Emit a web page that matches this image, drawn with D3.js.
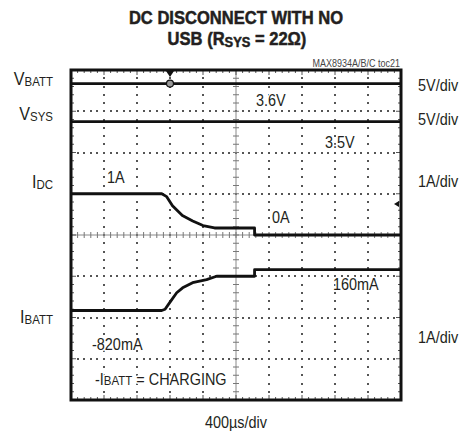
<!DOCTYPE html>
<html>
<head>
<meta charset="utf-8">
<script src="https://cdn.jsdelivr.net/npm/d3@7"></script>
<style>
  body { margin: 0; background: #fff; }
  svg text { font-family: "Liberation Sans", Arial, sans-serif; fill: #231f20; }
  .halo { paint-order: stroke; stroke: #fff; stroke-width: 3px; stroke-linejoin: round; }
</style>
</head>
<body>
<div id="chart"></div>
<script>
const width = 465;
const height = 434;

// scope setup: 10 x 8 divisions, 400us/div
const timePerDiv = 400;
const divsX = 10;
const divsY = 8;

// traces (time in us, values in V or A)
const vbattTime = [0, 4000];
const vbattVolts = [3.6, 3.6];
const vsysTime = [0, 4000];
const vsysVolts = [3.5, 3.5];
const idcTime = [0, 1100, 1160, 1230, 1350, 1475, 1600, 1740, 2225, 2225, 4000];
const idcAmps = [1.0, 1.0, 0.93, 0.71, 0.47, 0.34, 0.23, 0.17, 0.17, 0.0, 0.0];
const ibattTime = [0, 1100, 1140, 1196, 1281, 1353, 1474, 1644, 1764, 2225, 2225, 4000];
const ibattAmps = [-0.83, -0.83, -0.8, -0.64, -0.40, -0.28, -0.155, -0.08, 0.0, 0.0, 0.16, 0.16];

// channel names and scale texts
const chanMain = ["V", "V", "I", "I"];
const chanSub = ["BATT", "SYS", "DC", "BATT"];
const chanScale = ["5V/div", "5V/div", "1A/div", "1A/div"];
const voltsPerDiv = [5, 5, 1, 1];
const chanOffset = [2.95, 2.05, 0, -1]; // ground position in divisions from centre

const pLeft = 71, pRight = 401, pTop = 70, pBottom = 400;
const squeeze = 0.85; // no condensed font installed, so squash Liberation Sans

const svg = d3.select("#chart").append("svg")
  .attr("width", width)
  .attr("height", height);

const x = d3.scaleLinear().domain([0, divsX * timePerDiv]).range([pLeft, pRight]);
const y = d3.scaleLinear().domain([-divsY / 2, divsY / 2]).range([pBottom, pTop]);
const xDiv = d3.scaleLinear().domain([0, divsX]).range([pLeft, pRight]);

function label(tx, ty, size, anchor = "start", sx = squeeze) {
  return svg.append("g")
    .attr("transform", `translate(${tx},${ty}) scale(${sx},1)`)
    .append("text")
    .attr("text-anchor", anchor)
    .style("font-size", size + "px");
}

// dotted graticule
const g = svg.append("g");
d3.range(1, divsX).filter((k) => k !== divsX / 2).forEach((k) => {
  g.selectAll(null).data(d3.range(1, divsY * 5)).join("rect")
    .attr("x", Math.round(xDiv(k)) - 1).attr("y", (j) => Math.round(y(-divsY / 2 + j / 5)) - 1)
    .attr("width", 2).attr("height", 2).attr("fill", "#555");
});
d3.range(1, divsY).filter((k) => k !== divsY / 2).forEach((k) => {
  g.selectAll(null).data(d3.range(1, divsX * 5)).join("rect")
    .attr("x", (j) => Math.round(xDiv(j / 5)) - 1).attr("y", Math.round(y(-divsY / 2 + k)) - 1)
    .attr("width", 2).attr("height", 2).attr("fill", "#555");
});

// centre cross with ticks
g.append("line").attr("x1", xDiv(5)).attr("x2", xDiv(5)).attr("y1", pTop).attr("y2", pBottom)
  .attr("stroke", "#8a8a8a").attr("stroke-width", 1);
g.append("line").attr("x1", pLeft).attr("x2", pRight).attr("y1", y(0)).attr("y2", y(0))
  .attr("stroke", "#8a8a8a").attr("stroke-width", 1);
g.selectAll(null).data(d3.range(1, divsY * 5)).join("line")
  .attr("x1", xDiv(5) - 3).attr("x2", xDiv(5) + 3)
  .attr("y1", (j) => y(-divsY / 2 + j / 5)).attr("y2", (j) => y(-divsY / 2 + j / 5))
  .attr("stroke", "#777").attr("stroke-width", 1);
g.selectAll(null).data(d3.range(1, divsX * 5)).join("line")
  .attr("y1", y(0) - 3).attr("y2", y(0) + 3)
  .attr("x1", (j) => xDiv(j / 5)).attr("x2", (j) => xDiv(j / 5))
  .attr("stroke", "#777").attr("stroke-width", 1);

// edge ticks
const tk = (j) => (j % 5 === 0 ? 5 : 3);
g.selectAll(null).data(d3.range(1, divsX * 5)).join("line")
  .attr("x1", (j) => xDiv(j / 5)).attr("x2", (j) => xDiv(j / 5))
  .attr("y1", pTop).attr("y2", (j) => pTop + tk(j))
  .attr("stroke", "#555");
g.selectAll(null).data(d3.range(1, divsX * 5)).join("line")
  .attr("x1", (j) => xDiv(j / 5)).attr("x2", (j) => xDiv(j / 5))
  .attr("y1", pBottom).attr("y2", (j) => pBottom - tk(j))
  .attr("stroke", "#555");
g.selectAll(null).data(d3.range(1, divsY * 5)).join("line")
  .attr("y1", (j) => y(-divsY / 2 + j / 5)).attr("y2", (j) => y(-divsY / 2 + j / 5))
  .attr("x1", pLeft).attr("x2", (j) => pLeft + tk(j))
  .attr("stroke", "#555");
g.selectAll(null).data(d3.range(1, divsY * 5)).join("line")
  .attr("y1", (j) => y(-divsY / 2 + j / 5)).attr("y2", (j) => y(-divsY / 2 + j / 5))
  .attr("x1", pRight).attr("x2", (j) => pRight - tk(j))
  .attr("stroke", "#555");

// annotations inside the screen (drawn before traces, halo knocks out the grid)
const notes = [
  ["1A", 107, 183],
  ["3.6V", 256, 106],
  ["3.5V", 325, 148],
  ["0A", 272, 223],
  ["160mA", 333, 290],
  ["-820mA", 92, 350],
];
notes.forEach(([s, nx, ny]) => {
  label(nx, ny, 17).attr("class", "halo").text(s);
});
const ch = label(95, 385, 17).attr("class", "halo");
ch.append("tspan").text("-I");
ch.append("tspan").style("font-size", "13.5px").text("BATT");
ch.append("tspan").text(" = CHARGING");

// traces
const traces = [
  [vbattTime, vbattVolts],
  [vsysTime, vsysVolts],
  [idcTime, idcAmps],
  [ibattTime, ibattAmps],
];
traces.forEach(([t, v], i) => {
  const pts = t.map((tt, k) => [x(tt), y(chanOffset[i] + v[k] / voltsPerDiv[i])]);
  svg.append("path")
    .attr("d", d3.line().curve(d3.curveLinear)(pts))
    .attr("fill", "none")
    .attr("stroke", "#111")
    .attr("stroke-width", 2.8)
    .attr("stroke-linejoin", "round");
});

// trigger markers
const trigX = x(3 * timePerDiv);
svg.append("path")
  .attr("d", `M${trigX - 4},${pTop + 1}L${trigX + 4},${pTop + 1}L${trigX},${pTop + 7}Z`)
  .attr("fill", "#111");
svg.append("circle")
  .attr("cx", trigX).attr("cy", y(chanOffset[0] + vbattVolts[0] / 5))
  .attr("r", 3.5).attr("fill", "#999").attr("stroke", "#111").attr("stroke-width", 1.2);
const trigY = y(0.75);
svg.append("path")
  .attr("d", `M${pRight - 2},${trigY - 3}L${pRight - 2},${trigY + 3}L${pRight - 7},${trigY}Z`)
  .attr("fill", "#111");

// frame
svg.append("rect")
  .attr("x", pLeft).attr("y", pTop)
  .attr("width", pRight - pLeft).attr("height", pBottom - pTop)
  .attr("fill", "none").attr("stroke", "#111").attr("stroke-width", 3);

// title
const boldTitle = (t) => t.style("font-weight", "bold")
  .style("stroke", "#231f20").style("stroke-width", "0.5px");
boldTitle(label(236, 24, 18, "middle", 0.92)).text("DC DISCONNECT WITH NO");
const t2 = boldTitle(label(237, 45, 18, "middle", 0.92));
t2.append("tspan").text("USB (R");
t2.append("tspan").attr("dy", 2).style("font-size", "14px").text("SYS");
t2.append("tspan").attr("dy", -2).text(" = 22Ω)");

label(400, 67, 10, "end", 0.9).style("fill", "#444").text("MAX8934A/B/C toc21");

// channel labels
const labelY = [85, 120, 188, 323];
const scaleY = [91, 125, 187, 343];
chanMain.forEach((m, i) => {
  const t = label(53, labelY[i], 19, "end");
  t.append("tspan").text(m);
  t.append("tspan").attr("dy", 1).style("font-size", "13.5px").text(chanSub[i]);
  label(418, scaleY[i], 17).text(chanScale[i]);
});

label(236, 428, 17, "middle").text(`${timePerDiv}µs/div`);
</script>
</body>
</html>
